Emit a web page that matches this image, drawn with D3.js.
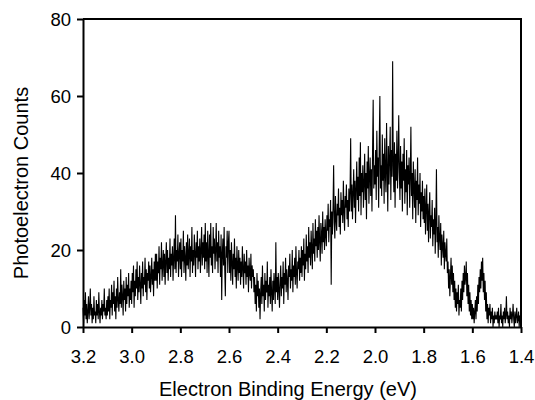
<!DOCTYPE html>
<html>
<head>
<meta charset="utf-8">
<script src="https://cdn.jsdelivr.net/npm/d3@7"></script>
<style>
  body { margin: 0; background: #fff; }
  text { font-family: Arial, "Liberation Sans", sans-serif; fill: #000; }
</style>
</head>
<body>
<script>
// binding energy grid (eV), counts every 0.0025 eV
const energyStart = 3.2;
const energyStep = 0.0025;
const counts = [
  // 3.20 - 3.10
  5, 1, 7, 3, 9, 2, 6, 1, 4, 8, 2, 5, 10, 3, 6, 1, 5, 2, 8, 3,
  4, 1, 7, 3, 6, 2, 9, 4, 1, 5, 3, 7, 2, 6, 4, 10, 3, 5, 2, 7,
  // 3.10 - 3.00
  3, 8, 4, 10, 2, 7, 5, 11, 3, 9, 6, 12, 4, 8, 2, 10, 5, 13, 7, 4,
  9, 6, 15, 5, 11, 8, 3, 12, 7, 10, 4, 13, 6, 11, 8, 14, 5, 10, 7, 12,
  // 3.00 - 2.90
  6, 14, 9, 16, 5, 12, 8, 15, 10, 17, 7, 13, 9, 16, 11, 6, 14, 10, 17, 8,
  13, 11, 18, 9, 15, 7, 14, 12, 17, 10, 16, 9, 13, 18, 11, 15, 8, 17, 12, 19,
  // 2.90 - 2.80
  12, 19, 10, 17, 14, 21, 11, 18, 15, 22, 12, 16, 20, 13, 19, 11, 17, 22, 14, 20,
  12, 18, 15, 23, 13, 19, 16, 21, 12, 18, 23, 15, 29, 14, 20, 17, 24, 13, 19, 22,
  // 2.80 - 2.70
  15, 23, 13, 20, 17, 25, 14, 21, 18, 12, 22, 16, 24, 15, 19, 23, 13, 21, 17, 26,
  14, 20, 16, 24, 19, 13, 22, 18, 25, 15, 21, 17, 23, 14, 20, 26, 16, 22, 18, 24,
  // 2.70 - 2.60
  15, 27, 17, 22, 14, 25, 19, 13, 24, 18, 27, 16, 21, 14, 26, 19, 23, 15, 20, 27,
  17, 22, 14, 25, 18, 21, 13, 24, 7, 19, 23, 16, 26, 15, 8, 21, 18, 25, 14, 22,
  // 2.60 - 2.50
  25, 14, 20, 12, 22, 17, 11, 19, 15, 23, 13, 18, 10, 21, 16, 12, 20, 14, 18, 11,
  17, 13, 21, 15, 10, 19, 14, 17, 11, 20, 13, 16, 9, 18, 14, 12, 19, 10, 16, 13,
  // 2.50 - 2.40
  15, 9, 13, 6, 11, 4, 14, 8, 12, 5, 10, 2, 9, 13, 6, 16, 8, 11, 4, 14,
  7, 12, 9, 17, 5, 11, 8, 13, 6, 15, 9, 4, 12, 7, 14, 10, 6, 22, 9, 13,
  // 2.40 - 2.30
  7, 14, 10, 5, 12, 16, 8, 13, 10, 17, 6, 14, 11, 18, 9, 15, 12, 7, 16, 13,
  19, 10, 15, 12, 20, 9, 16, 13, 18, 11, 21, 14, 10, 17, 15, 20, 12, 18, 14, 21,
  // 2.30 - 2.20
  13, 20, 16, 23, 12, 19, 15, 24, 17, 21, 14, 26, 18, 22, 16, 25, 20, 15, 27, 19,
  23, 17, 28, 21, 25, 18, 26, 20, 29, 22, 17, 27, 24, 19, 30, 22, 26, 20, 28, 24,
  // 2.20 - 2.10
  21, 29, 25, 32, 22, 28, 26, 33, 11, 30, 24, 31, 42, 27, 23, 34, 28, 25, 32, 29,
  36, 26, 31, 24, 35, 29, 33, 27, 38, 30, 25, 34, 31, 37, 28, 33, 26, 36, 30, 35,
  // 2.10 - 2.00
  49, 30, 37, 28, 35, 41, 31, 38, 27, 36, 43, 33, 39, 30, 44, 34, 48, 29, 40, 35,
  42, 31, 37, 45, 33, 40, 28, 43, 36, 47, 32, 39, 44, 34, 41, 30, 46, 59, 36, 42,
  // 2.00 - 1.90
  37, 46, 33, 51, 39, 44, 31, 48, 60, 36, 42, 34, 50, 38, 45, 32, 49, 40, 35, 53,
  41, 30, 47, 37, 44, 52, 33, 46, 39, 69, 42, 35, 48, 31, 45, 38, 51, 36, 43, 55,
  // 1.90 - 1.80
  40, 33, 47, 36, 43, 30, 45, 38, 49, 32, 41, 35, 46, 29, 42, 37, 44, 31, 39, 52,
  34, 40, 28, 43, 36, 31, 41, 27, 38, 33, 44, 29, 37, 32, 40, 26, 35, 30, 38, 28,
  // 1.80 - 1.70
  34, 27, 36, 24, 31, 37, 25, 32, 22, 30, 35, 23, 29, 26, 33, 21, 28, 24, 31, 19,
  27, 41, 22, 26, 18, 29, 23, 20, 27, 16, 24, 21, 18, 25, 15, 22, 19, 17, 23, 14,
  // 1.70 - 1.60
  17, 10, 15, 8, 13, 18, 11, 16, 9, 14, 7, 12, 5, 10, 4, 9, 6, 11, 3, 7,
  5, 10, 4, 12, 7, 14, 9, 16, 11, 13, 17, 8, 14, 6, 11, 4, 9, 3, 7, 2,
  // 1.60 - 1.50
  6, 2, 5, 1, 4, 7, 2, 8, 4, 11, 6, 13, 9, 15, 10, 17, 12, 18, 9, 14,
  7, 12, 4, 9, 2, 6, 1, 5, 3, 6, 1, 4, 2, 5, 0, 3, 1, 4, 2, 3,
  // 1.50 - 1.40
  2, 4, 1, 5, 0, 3, 2, 6, 1, 3, 0, 4, 2, 5, 1, 3, 8, 2, 4, 1,
  3, 0, 5, 2, 4, 1, 3, 6, 2, 0, 4, 1, 3, 5, 1, 2, 4, 0, 3, 2, 1
];
const xTicks = [3.2, 3.0, 2.8, 2.6, 2.4, 2.2, 2.0, 1.8, 1.6, 1.4];
const yTicks = [0, 20, 40, 60, 80];

const data = counts.map((c, i) => ({e: energyStart - i * energyStep, c: c}));

const margin = {top: 19, right: 14, bottom: 73, left: 83};
const width = 535 - margin.left - margin.right,
      height = 400 - margin.top - margin.bottom;

const x = d3.scaleLinear().domain([3.2, 1.4]).range([0, width]);
const y = d3.scaleLinear().domain([0, 80]).range([height, 0]);

const svg = d3.select("body").append("svg")
    .attr("width", 535)
    .attr("height", 400)
  .append("g")
    .attr("transform", "translate(" + margin.left + "," + margin.top + ")");

// spectrum
svg.append("path")
    .datum(data)
    .attr("fill", "none")
    .attr("stroke", "#000")
    .attr("stroke-width", 1.1)
    .attr("d", d3.line().x(d => x(d.e)).y(d => y(d.c)));

// frame (top + right, no ticks)
svg.append("path")
    .attr("d", "M0,0H" + width + "V" + height)
    .attr("fill", "none")
    .attr("stroke", "#000")
    .attr("stroke-width", 2);

// x axis
const xAxis = svg.append("g")
    .attr("transform", "translate(0," + height + ")")
    .call(d3.axisBottom(x).tickValues(xTicks).tickFormat(d3.format(".1f")).tickSize(6).tickSizeOuter(0));

// y axis
const yAxis = svg.append("g")
    .call(d3.axisLeft(y).tickValues(yTicks).tickSize(6).tickSizeOuter(0));

[xAxis, yAxis].forEach(g => {
  g.select(".domain").attr("stroke-width", 2);
  g.selectAll(".tick line").attr("stroke-width", 2);
  g.selectAll("text").attr("font-size", "18.5px").attr("font-family", "Arial, 'Liberation Sans', sans-serif");
});
xAxis.selectAll("text").attr("dy", null).attr("y", 36);
yAxis.selectAll("text").attr("x", -12).attr("dy", "0.35em");

// axis titles
svg.append("text")
    .attr("x", 205)
    .attr("y", height + 69)
    .attr("text-anchor", "middle")
    .attr("font-size", "20px")
    .text("Electron Binding Energy (eV)");

svg.append("text")
    .attr("transform", "rotate(-90)")
    .attr("x", -164)
    .attr("y", -55)
    .attr("text-anchor", "middle")
    .attr("font-size", "20px")
    .text("Photoelectron Counts");
</script>
</body>
</html>
